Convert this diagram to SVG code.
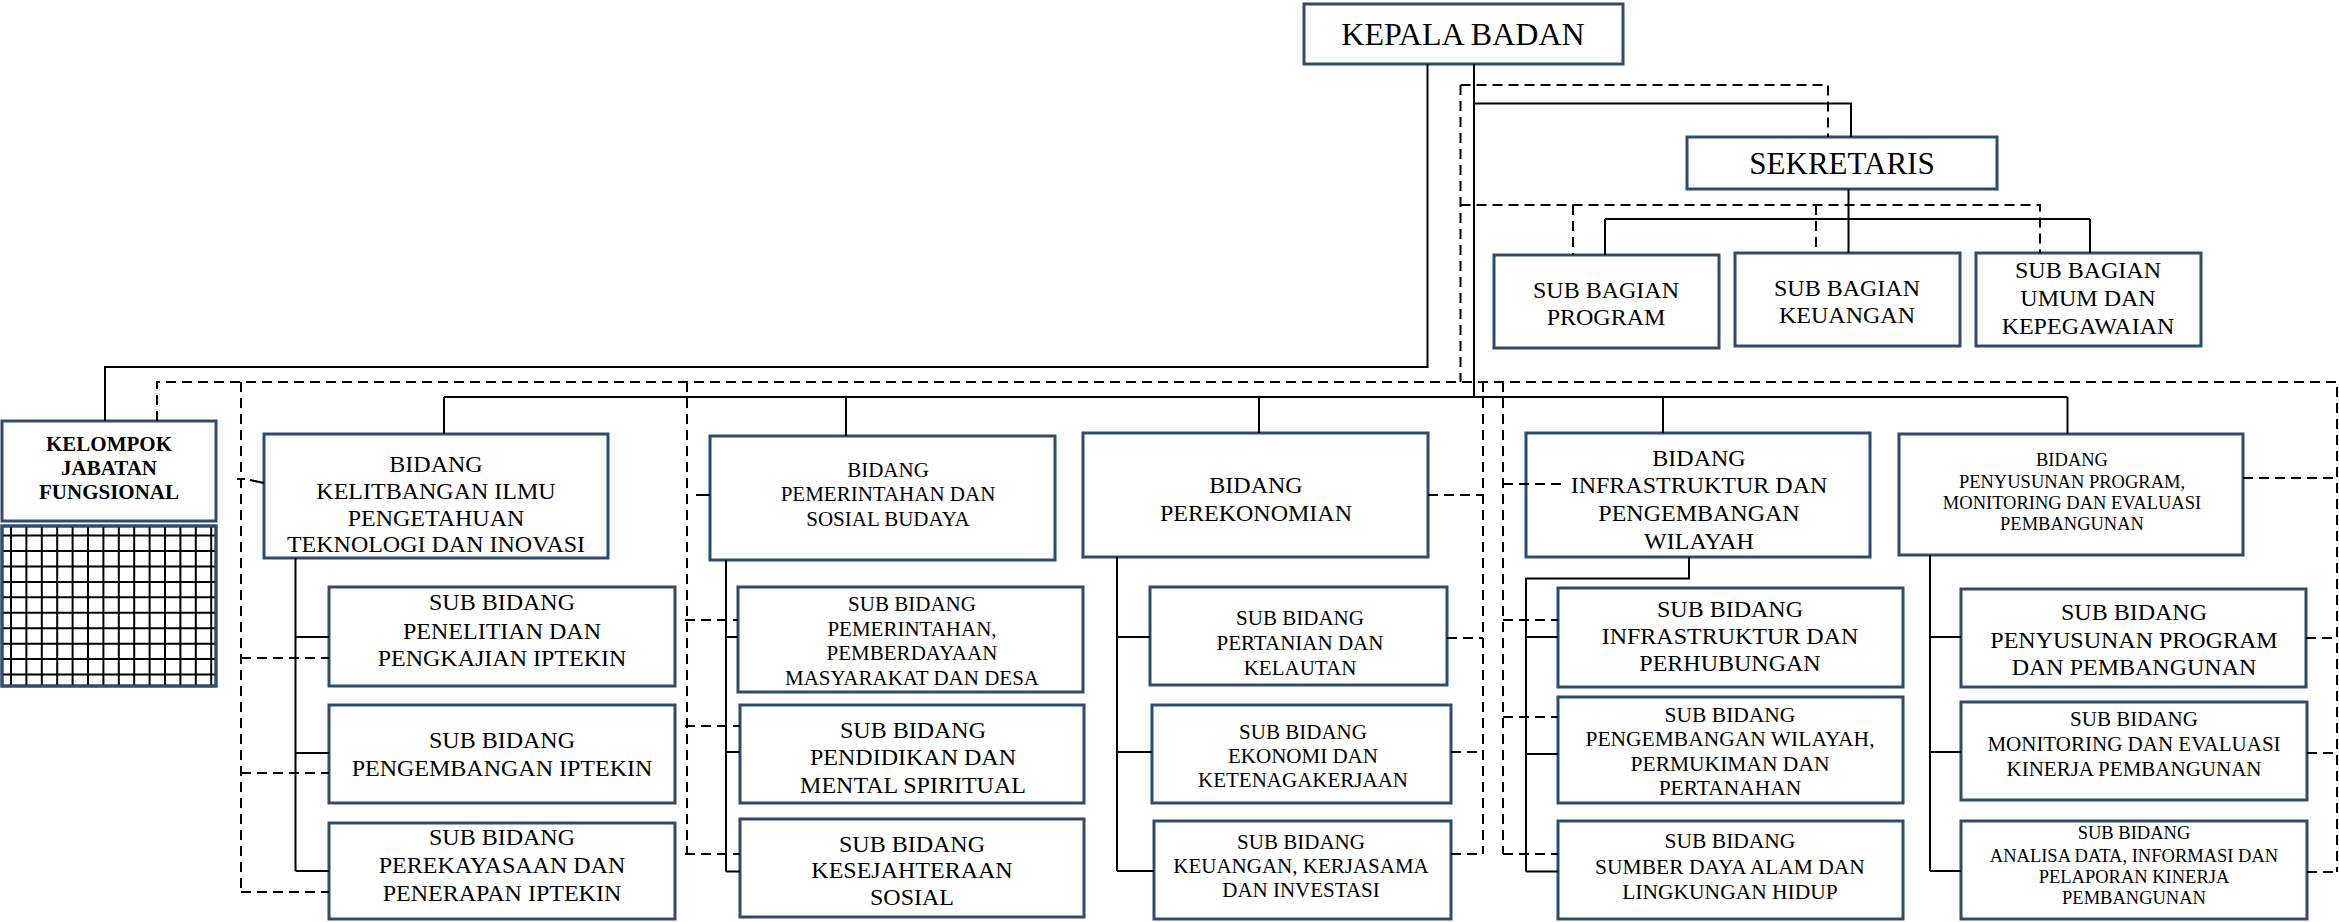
<svg xmlns="http://www.w3.org/2000/svg" width="2339" height="922" viewBox="0 0 2339 922">
<style>
.box{fill:#fff;stroke:#2F4B6E;stroke-width:3}
.t{font-family:"Liberation Serif","Times New Roman",serif;fill:#000;text-anchor:middle}
.s{fill:none;stroke:#000;stroke-width:2}
.d{fill:none;stroke:#000;stroke-width:2;stroke-dasharray:10 6}
.g{fill:none;stroke:#000;stroke-width:2}
</style>
<rect width="2339" height="922" fill="#fff"/>

<g id="kepala-badan"><rect class="box" x="1304" y="4" width="319" height="60"/><text class="t" x="1463" y="45" font-size="32">KEPALA BADAN</text></g>
<g id="sekretaris"><rect class="box" x="1687" y="137" width="310" height="52"/><text class="t" x="1842" y="174" font-size="31">SEKRETARIS</text></g>
<g id="sub-bagian-program"><rect class="box" x="1494" y="255" width="225" height="93"/><text class="t" font-size="24"><tspan x="1606" y="298">SUB BAGIAN</tspan><tspan x="1606" y="325">PROGRAM</tspan></text></g>
<g id="sub-bagian-keuangan"><rect class="box" x="1735" y="253" width="225" height="93"/><text class="t" font-size="24"><tspan x="1847" y="296">SUB BAGIAN</tspan><tspan x="1847" y="323">KEUANGAN</tspan></text></g>
<g id="sub-bagian-umum"><rect class="box" x="1976" y="253" width="225" height="93"/><text class="t" font-size="24"><tspan x="2088" y="278">SUB BAGIAN</tspan><tspan x="2088" y="306">UMUM DAN</tspan><tspan x="2088" y="334">KEPEGAWAIAN</tspan></text></g>

<g id="kelompok-jabatan-fungsional">
<rect class="box" x="2" y="421" width="214" height="100"/>
<text class="t" font-size="21" font-weight="bold"><tspan x="109" y="450.5">KELOMPOK</tspan><tspan x="109" y="474.5">JABATAN</tspan><tspan x="109" y="499">FUNGSIONAL</tspan></text>
<rect class="box" x="2" y="526" width="214" height="160"/>
<path class="g" d="M11 526V686M26.4 526V686M41.8 526V686M57.2 526V686M72.6 526V686M88 526V686M103.4 526V686M118.8 526V686M134.2 526V686M149.6 526V686M165 526V686M180.4 526V686M195.8 526V686M211.2 526V686M2 535.5H216M2 551H216M2 566.4H216M2 581.9H216M2 597.3H216M2 612.8H216M2 628.2H216M2 643.7H216M2 659.1H216M2 674.6H216"/>
<rect x="2" y="526" width="214" height="160" fill="none" stroke="#2F4B6E" stroke-width="3"/>
</g>

<g id="bidang-kelitbangan"><rect class="box" x="264" y="434" width="344" height="124"/><text class="t" font-size="24"><tspan x="436" y="472">BIDANG</tspan><tspan x="436" y="499">KELITBANGAN ILMU</tspan><tspan x="436" y="525.5">PENGETAHUAN</tspan><tspan x="436" y="552">TEKNOLOGI DAN INOVASI</tspan></text></g>
<g id="sub-penelitian"><rect class="box" x="329" y="587" width="346" height="99"/><text class="t" font-size="24"><tspan x="502" y="610">SUB BIDANG</tspan><tspan x="502" y="639">PENELITIAN DAN</tspan><tspan x="502" y="666">PENGKAJIAN IPTEKIN</tspan></text></g>
<g id="sub-pengembangan-iptekin"><rect class="box" x="329" y="705" width="346" height="98"/><text class="t" font-size="24"><tspan x="502" y="748">SUB BIDANG</tspan><tspan x="502" y="776">PENGEMBANGAN IPTEKIN</tspan></text></g>
<g id="sub-perekayasaan"><rect class="box" x="329" y="823" width="346" height="96"/><text class="t" font-size="24"><tspan x="502" y="845">SUB BIDANG</tspan><tspan x="502" y="873">PEREKAYASAAN DAN</tspan><tspan x="502" y="900.5">PENERAPAN IPTEKIN</tspan></text></g>

<g id="bidang-pemerintahan"><rect class="box" x="710" y="436" width="345" height="124"/><text class="t" font-size="21"><tspan x="888" y="476.5">BIDANG</tspan><tspan x="888" y="500.5">PEMERINTAHAN DAN</tspan><tspan x="888" y="525.5">SOSIAL BUDAYA</tspan></text></g>
<g id="sub-pemerintahan"><rect class="box" x="738" y="587" width="345" height="105"/><text class="t" font-size="21"><tspan x="912" y="611">SUB BIDANG</tspan><tspan x="912" y="636">PEMERINTAHAN,</tspan><tspan x="912" y="660">PEMBERDAYAAN</tspan><tspan x="912" y="684.5">MASYARAKAT DAN DESA</tspan></text></g>
<g id="sub-pendidikan"><rect class="box" x="740" y="705" width="344" height="98"/><text class="t" font-size="24"><tspan x="913" y="738">SUB BIDANG</tspan><tspan x="913" y="765">PENDIDIKAN DAN</tspan><tspan x="913" y="793">MENTAL SPIRITUAL</tspan></text></g>
<g id="sub-kesejahteraan"><rect class="box" x="740" y="819" width="344" height="98"/><text class="t" font-size="24"><tspan x="912" y="851.5">SUB BIDANG</tspan><tspan x="912" y="878">KESEJAHTERAAN</tspan><tspan x="912" y="905">SOSIAL</tspan></text></g>

<g id="bidang-perekonomian"><rect class="box" x="1083" y="433" width="345" height="124"/><text class="t" font-size="24"><tspan x="1256" y="493">BIDANG</tspan><tspan x="1256" y="521">PEREKONOMIAN</tspan></text></g>
<g id="sub-pertanian"><rect class="box" x="1150" y="587" width="297" height="98"/><text class="t" font-size="21"><tspan x="1300" y="625">SUB BIDANG</tspan><tspan x="1300" y="650">PERTANIAN DAN</tspan><tspan x="1300" y="675">KELAUTAN</tspan></text></g>
<g id="sub-ekonomi"><rect class="box" x="1152" y="705" width="299" height="98"/><text class="t" font-size="21"><tspan x="1303" y="739">SUB BIDANG</tspan><tspan x="1303" y="763">EKONOMI DAN</tspan><tspan x="1303" y="787">KETENAGAKERJAAN</tspan></text></g>
<g id="sub-keuangan-kerjasama"><rect class="box" x="1154" y="821" width="297" height="98"/><text class="t" font-size="21"><tspan x="1301" y="848.5">SUB BIDANG</tspan><tspan x="1301" y="872.5">KEUANGAN, KERJASAMA</tspan><tspan x="1301" y="897">DAN INVESTASI</tspan></text></g>

<g id="bidang-infrastruktur"><rect class="box" x="1526" y="433" width="344" height="124"/><text class="t" font-size="24"><tspan x="1699" y="466">BIDANG</tspan><tspan x="1699" y="493">INFRASTRUKTUR DAN</tspan><tspan x="1699" y="521">PENGEMBANGAN</tspan><tspan x="1699" y="549">WILAYAH</tspan></text></g>
<g id="sub-infrastruktur"><rect class="box" x="1558" y="588" width="345" height="99"/><text class="t" font-size="24"><tspan x="1730" y="616.5">SUB BIDANG</tspan><tspan x="1730" y="643.5">INFRASTRUKTUR DAN</tspan><tspan x="1730" y="670.5">PERHUBUNGAN</tspan></text></g>
<g id="sub-pengembangan-wilayah"><rect class="box" x="1558" y="697" width="345" height="106"/><text class="t" font-size="21.5"><tspan x="1730" y="721.5">SUB BIDANG</tspan><tspan x="1730" y="745.5">PENGEMBANGAN WILAYAH,</tspan><tspan x="1730" y="770.5">PERMUKIMAN DAN</tspan><tspan x="1730" y="794.5">PERTANAHAN</tspan></text></g>
<g id="sub-sumber-daya"><rect class="box" x="1558" y="821" width="345" height="98"/><text class="t" font-size="21.5"><tspan x="1730" y="848">SUB BIDANG</tspan><tspan x="1730" y="873.5">SUMBER DAYA ALAM DAN</tspan><tspan x="1730" y="898.5">LINGKUNGAN HIDUP</tspan></text></g>

<g id="bidang-penyusunan"><rect class="box" x="1899" y="434" width="344" height="121"/><text class="t" font-size="18.5"><tspan x="2072" y="466">BIDANG</tspan><tspan x="2072" y="487.5">PENYUSUNAN PROGRAM,</tspan><tspan x="2072" y="509">MONITORING DAN EVALUASI</tspan><tspan x="2072" y="530">PEMBANGUNAN</tspan></text></g>
<g id="sub-penyusunan-program"><rect class="box" x="1961" y="589" width="345" height="98"/><text class="t" font-size="24"><tspan x="2134" y="620">SUB BIDANG</tspan><tspan x="2134" y="648">PENYUSUNAN PROGRAM</tspan><tspan x="2134" y="675">DAN PEMBANGUNAN</tspan></text></g>
<g id="sub-monitoring"><rect class="box" x="1961" y="702" width="346" height="98"/><text class="t" font-size="21"><tspan x="2134" y="726">SUB BIDANG</tspan><tspan x="2134" y="751">MONITORING DAN EVALUASI</tspan><tspan x="2134" y="776">KINERJA PEMBANGUNAN</tspan></text></g>
<g id="sub-analisa"><rect class="box" x="1961" y="821" width="346" height="98"/><text class="t" font-size="18.5"><tspan x="2134" y="839">SUB BIDANG</tspan><tspan x="2134" y="861.5">ANALISA DATA, INFORMASI DAN</tspan><tspan x="2134" y="883">PELAPORAN KINERJA</tspan><tspan x="2134" y="904">PEMBANGUNAN</tspan></text></g>

<g id="connectors">
<path class="s" d="M1427.5 64V367H105V421M1474 64V397M1474 103.5H1851V137M444 397H2067.5M444 397V434M846 397V436M1259 397V433M1663 397V433M2067.5 397V434M1848.5 189V253M1605 219H2090M1605 219V255M2090 219V253"/>
<path class="s" d="M295.5 558V871M295.5 637H329M295.5 753H329M295.5 871H329M250 480L264 483M237 479H245"/>
<path class="s" d="M696 495H710M726 560V871.5M726 637H738M726 752H740M726 871.5H740"/>
<path class="s" d="M1117 557V871M1117 637H1150M1117 752H1152M1117 871H1154"/>
<path class="s" d="M1689 557V578.5H1526V871.5M1526 637H1558M1526 754H1558M1526 871.5H1558"/>
<path class="s" d="M1930 555V871M1930 637H1961M1930 752H1961M1930 871H1961"/>
<path class="d" d="M1460.5 85V382M1460.5 85H1828V137M1460.5 205H2040V253M1573 205V255M1816 205V253"/>
<path class="d" d="M157 421V382H2337V872M241 382V892M687 382V854M1483 382V854M1503 382V854"/>
<path class="d" d="M241 658H329M241 773H329M241 892H329M685 620H738M685 726H740M685 854H740"/>
<path class="d" d="M1428 495H1483M1447 638H1483M1451 752H1483M1451 854H1483M1503 484H1566M1503 620H1558M1503 717H1558M1503 854H1558"/>
<path class="d" d="M2243 478H2337M2306 638H2337M2307 753H2337M2307 872H2337"/>
</g>
</svg>
